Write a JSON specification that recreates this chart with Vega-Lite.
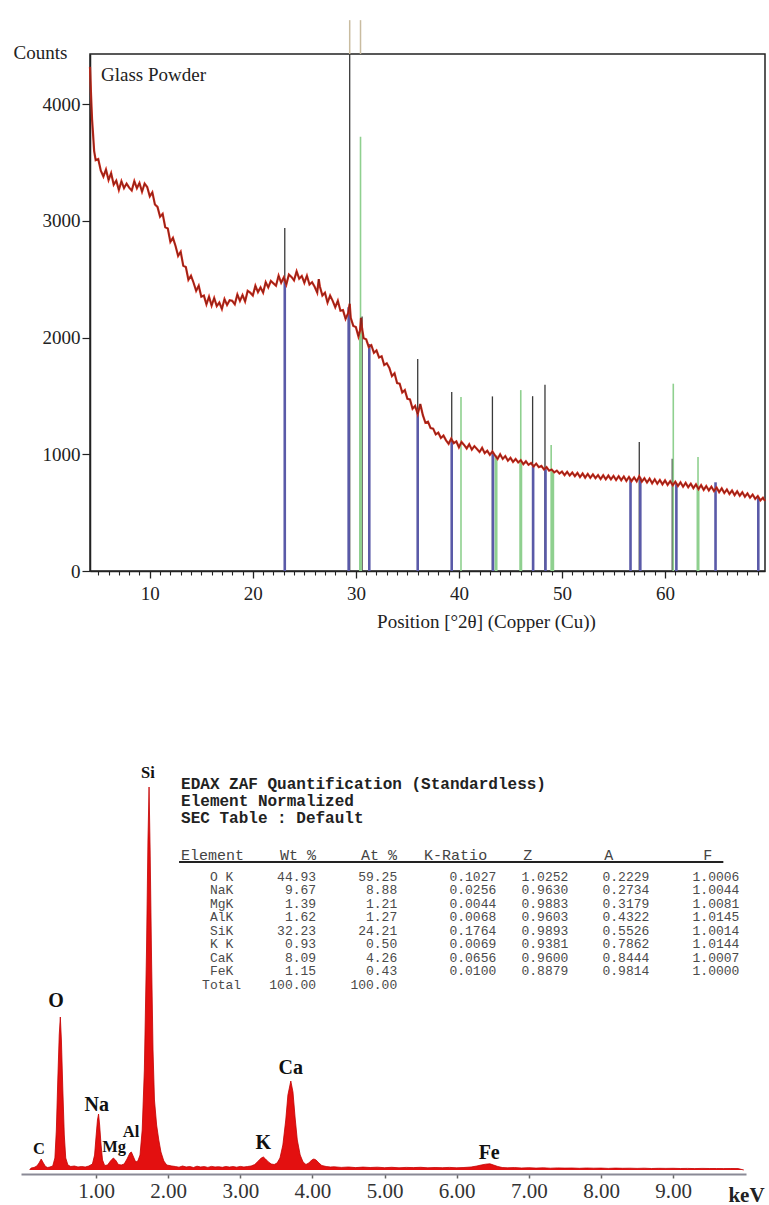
{
  "$schema": "https://vega.github.io/schema/vega-lite/v6.json",
  "padding": {"left": 12, "top": 18, "right": 0, "bottom": 0},
  "background": "white",
  "config": {"font": "Liberation Serif", "view": {"stroke": null}, "axis": {"grid": false}},
  "spacing": 132,
  "datasets": {
    "xrd": [
      {"t":4.2,"c":4320},{"t":4.3,"c":4080},{"t":4.4,"c":3870},{"t":4.5,"c":3740},{"t":4.6,"c":3600},{"t":4.75,"c":3520},{"t":5.0,"c":3530},{"t":5.25,"c":3430},{"t":5.5,"c":3380},{"t":5.75,"c":3440},{"t":6.0,"c":3350},{"t":6.25,"c":3410},{"t":6.5,"c":3310},{"t":6.75,"c":3345},{"t":7.0,"c":3265},{"t":7.25,"c":3340},{"t":7.5,"c":3280},{"t":7.75,"c":3320},{"t":8.0,"c":3285},{"t":8.25,"c":3260},{"t":8.5,"c":3340},{"t":8.75,"c":3280},{"t":9.0,"c":3325},{"t":9.25,"c":3250},{"t":9.5,"c":3320},{"t":9.75,"c":3290},{"t":10.0,"c":3210},{"t":10.25,"c":3245},{"t":10.5,"c":3140},{"t":10.75,"c":3120},{"t":11.0,"c":3035},{"t":11.25,"c":3060},{"t":11.5,"c":2945},{"t":11.75,"c":2935},{"t":12.0,"c":2820},{"t":12.25,"c":2855},{"t":12.5,"c":2785},{"t":12.75,"c":2700},{"t":13.0,"c":2735},{"t":13.25,"c":2615},{"t":13.5,"c":2605},{"t":13.75,"c":2495},{"t":14.0,"c":2530},{"t":14.25,"c":2470},{"t":14.5,"c":2400},{"t":14.75,"c":2445},{"t":15.0,"c":2350},{"t":15.25,"c":2360},{"t":15.5,"c":2285},{"t":15.75,"c":2350},{"t":16.0,"c":2275},{"t":16.25,"c":2340},{"t":16.5,"c":2270},{"t":16.75,"c":2300},{"t":17.0,"c":2245},{"t":17.25,"c":2330},{"t":17.5,"c":2280},{"t":17.75,"c":2320},{"t":18.0,"c":2315},{"t":18.25,"c":2285},{"t":18.5,"c":2370},{"t":18.75,"c":2315},{"t":19.0,"c":2365},{"t":19.25,"c":2310},{"t":19.5,"c":2400},{"t":19.75,"c":2385},{"t":20.0,"c":2360},{"t":20.25,"c":2445},{"t":20.5,"c":2390},{"t":20.75,"c":2430},{"t":21.0,"c":2385},{"t":21.25,"c":2475},{"t":21.5,"c":2430},{"t":21.75,"c":2485},{"t":22.0,"c":2465},{"t":22.25,"c":2445},{"t":22.5,"c":2530},{"t":22.75,"c":2470},{"t":23.0,"c":2515},{"t":23.25,"c":2455},{"t":23.5,"c":2540},{"t":23.75,"c":2520},{"t":24.0,"c":2490},{"t":24.25,"c":2567},{"t":24.5,"c":2505},{"t":24.75,"c":2528},{"t":25.0,"c":2470},{"t":25.25,"c":2530},{"t":25.5,"c":2455},{"t":25.75,"c":2475},{"t":26.0,"c":2435},{"t":26.25,"c":2385},{"t":26.4,"c":2500},{"t":26.5,"c":2440},{"t":26.75,"c":2360},{"t":27.0,"c":2385},{"t":27.25,"c":2300},{"t":27.5,"c":2360},{"t":27.75,"c":2315},{"t":28.0,"c":2260},{"t":28.25,"c":2315},{"t":28.5,"c":2230},{"t":28.75,"c":2235},{"t":29.0,"c":2160},{"t":29.25,"c":2210},{"t":29.4,"c":2290},{"t":29.5,"c":2170},{"t":29.75,"c":2100},{"t":30.0,"c":2090},{"t":30.25,"c":2010},{"t":30.4,"c":2060},{"t":30.5,"c":2170},{"t":30.6,"c":2080},{"t":30.75,"c":1995},{"t":31.0,"c":1985},{"t":31.25,"c":1920},{"t":31.5,"c":1935},{"t":31.75,"c":1870},{"t":32.0,"c":1890},{"t":32.25,"c":1830},{"t":32.5,"c":1840},{"t":32.75,"c":1765},{"t":33.0,"c":1780},{"t":33.25,"c":1740},{"t":33.5,"c":1670},{"t":33.75,"c":1695},{"t":34.0,"c":1610},{"t":34.25,"c":1605},{"t":34.5,"c":1530},{"t":34.75,"c":1550},{"t":35.0,"c":1475},{"t":35.25,"c":1470},{"t":35.5,"c":1390},{"t":35.75,"c":1415},{"t":36.0,"c":1345},{"t":36.25,"c":1430},{"t":36.5,"c":1335},{"t":36.75,"c":1270},{"t":37.0,"c":1280},{"t":37.25,"c":1225},{"t":37.5,"c":1220},{"t":37.75,"c":1170},{"t":38.0,"c":1185},{"t":38.25,"c":1140},{"t":38.5,"c":1160},{"t":38.75,"c":1120},{"t":39.0,"c":1090},{"t":39.25,"c":1135},{"t":39.5,"c":1095},{"t":39.75,"c":1110},{"t":40.0,"c":1060},{"t":40.25,"c":1105},{"t":40.5,"c":1080},{"t":40.75,"c":1050},{"t":41.0,"c":1085},{"t":41.25,"c":1040},{"t":41.5,"c":1070},{"t":41.75,"c":1045},{"t":42.0,"c":1020},{"t":42.25,"c":1055},{"t":42.5,"c":1010},{"t":42.75,"c":1030},{"t":43.0,"c":995},{"t":43.25,"c":1025},{"t":43.5,"c":990},{"t":43.75,"c":960},{"t":44.0,"c":1000},{"t":44.25,"c":960},{"t":44.5,"c":985},{"t":44.75,"c":945},{"t":45.0,"c":970},{"t":45.25,"c":935},{"t":45.5,"c":960},{"t":45.75,"c":930},{"t":46.0,"c":950},{"t":46.25,"c":915},{"t":46.5,"c":940},{"t":46.75,"c":910},{"t":47.0,"c":925},{"t":47.25,"c":895},{"t":47.5,"c":920},{"t":47.75,"c":890},{"t":48.0,"c":900},{"t":48.25,"c":870},{"t":48.5,"c":890},{"t":48.75,"c":860},{"t":49.0,"c":870},{"t":49.25,"c":845},{"t":49.5,"c":860},{"t":49.75,"c":835},{"t":50.0,"c":852},{"t":50.25,"c":822},{"t":50.5,"c":850},{"t":50.75,"c":818},{"t":51.0,"c":843},{"t":51.25,"c":812},{"t":51.5,"c":840},{"t":51.75,"c":805},{"t":52.0,"c":835},{"t":52.25,"c":800},{"t":52.5,"c":832},{"t":52.75,"c":798},{"t":53.0,"c":828},{"t":53.25,"c":795},{"t":53.5,"c":822},{"t":53.75,"c":788},{"t":54.0,"c":820},{"t":54.25,"c":786},{"t":54.5,"c":818},{"t":54.75,"c":785},{"t":55.0,"c":815},{"t":55.25,"c":780},{"t":55.5,"c":812},{"t":55.75,"c":778},{"t":56.0,"c":810},{"t":56.25,"c":772},{"t":56.5,"c":806},{"t":56.75,"c":770},{"t":57.0,"c":802},{"t":57.25,"c":768},{"t":57.5,"c":812},{"t":57.75,"c":765},{"t":58.0,"c":795},{"t":58.25,"c":758},{"t":58.5,"c":792},{"t":58.75,"c":752},{"t":59.0,"c":786},{"t":59.25,"c":748},{"t":59.5,"c":780},{"t":59.75,"c":742},{"t":60.0,"c":776},{"t":60.25,"c":738},{"t":60.5,"c":770},{"t":60.75,"c":735},{"t":61.0,"c":765},{"t":61.25,"c":728},{"t":61.5,"c":760},{"t":61.75,"c":722},{"t":62.0,"c":755},{"t":62.25,"c":718},{"t":62.5,"c":748},{"t":62.75,"c":710},{"t":63.0,"c":742},{"t":63.25,"c":702},{"t":63.5,"c":735},{"t":63.75,"c":695},{"t":64.0,"c":728},{"t":64.25,"c":690},{"t":64.5,"c":722},{"t":64.75,"c":685},{"t":65.0,"c":715},{"t":65.25,"c":676},{"t":65.5,"c":708},{"t":65.75,"c":668},{"t":66.0,"c":698},{"t":66.25,"c":660},{"t":66.5,"c":690},{"t":66.75,"c":650},{"t":67.0,"c":682},{"t":67.25,"c":645},{"t":67.5,"c":675},{"t":67.75,"c":636},{"t":68.0,"c":665},{"t":68.25,"c":628},{"t":68.5,"c":655},{"t":68.75,"c":618},{"t":69.0,"c":642},{"t":69.25,"c":605},{"t":69.5,"c":628},{"t":69.7,"c":600}
    ],
    "refBlack": [
      {"t":23.1,"c":2940},{"t":29.4,"c":4430},{"t":30.6,"c":2180},{"t":36.0,"c":1816},{"t":39.3,"c":1533},{"t":43.25,"c":1496},{"t":47.15,"c":1498},{"t":48.35,"c":1596},{"t":57.5,"c":1105},{"t":60.7,"c":962}
    ],
    "refGreen": [
      {"t":30.45,"c":3720},{"t":40.2,"c":1490},{"t":46.0,"c":1550},{"t":48.95,"c":1079},{"t":60.8,"c":1605},{"t":63.2,"c":976}
    ],
    "refGreenBar": [
      {"t":30.45,"c":2070},{"t":43.6,"c":990},{"t":46.0,"c":935},{"t":49.1,"c":860},{"t":63.2,"c":722}
    ],
    "refBlue": [
      {"t":23.1,"c":2505},{"t":29.3,"c":2260},{"t":31.3,"c":1945},{"t":36.0,"c":1370},{"t":39.3,"c":1110},{"t":43.3,"c":1005},{"t":47.2,"c":912},{"t":48.4,"c":878},{"t":56.65,"c":790},{"t":57.6,"c":800},{"t":61.1,"c":750},{"t":64.9,"c":760},{"t":69.05,"c":625}
    ],
    "refBeige": [
      {"t":29.4,"c":4720},{"t":30.45,"c":4720}
    ],
    "sample": [{"text":"Glass Powder"}],
    "eds": [
      {"e":0.08,"n":0},{"e":0.10,"n":20},{"e":0.14,"n":25},{"e":0.18,"n":40},{"e":0.21,"n":70},{"e":0.24,"n":110},{"e":0.27,"n":70},{"e":0.30,"n":35},{"e":0.33,"n":25},{"e":0.36,"n":30},{"e":0.40,"n":40},{"e":0.43,"n":120},{"e":0.45,"n":400},{"e":0.47,"n":900},{"e":0.49,"n":1350},{"e":0.505,"n":1530},{"e":0.52,"n":1300},{"e":0.54,"n":800},{"e":0.56,"n":350},{"e":0.58,"n":120},{"e":0.61,"n":50},{"e":0.65,"n":35},{"e":0.70,"n":40},{"e":0.75,"n":30},{"e":0.80,"n":35},{"e":0.85,"n":30},{"e":0.90,"n":40},{"e":0.95,"n":60},{"e":0.98,"n":150},{"e":1.00,"n":330},{"e":1.02,"n":500},{"e":1.035,"n":560},{"e":1.05,"n":450},{"e":1.07,"n":250},{"e":1.09,"n":100},{"e":1.12,"n":45},{"e":1.16,"n":50},{"e":1.20,"n":90},{"e":1.24,"n":120},{"e":1.27,"n":100},{"e":1.31,"n":55},{"e":1.35,"n":50},{"e":1.39,"n":60},{"e":1.43,"n":110},{"e":1.47,"n":170},{"e":1.49,"n":180},{"e":1.52,"n":130},{"e":1.55,"n":80},{"e":1.58,"n":90},{"e":1.61,"n":150},{"e":1.64,"n":400},{"e":1.67,"n":1000},{"e":1.70,"n":2200},{"e":1.72,"n":3300},{"e":1.735,"n":3830},{"e":1.75,"n":3200},{"e":1.77,"n":2100},{"e":1.79,"n":1200},{"e":1.81,"n":700},{"e":1.84,"n":450},{"e":1.87,"n":300},{"e":1.90,"n":180},{"e":1.94,"n":90},{"e":1.98,"n":50},{"e":2.05,"n":40},{"e":2.10,"n":35},{"e":2.15,"n":28},{"e":2.20,"n":40},{"e":2.25,"n":30},{"e":2.30,"n":35},{"e":2.35,"n":25},{"e":2.40,"n":38},{"e":2.45,"n":30},{"e":2.50,"n":34},{"e":2.55,"n":26},{"e":2.60,"n":36},{"e":2.65,"n":30},{"e":2.70,"n":33},{"e":2.75,"n":27},{"e":2.80,"n":35},{"e":2.85,"n":29},{"e":2.90,"n":34},{"e":2.95,"n":28},{"e":3.00,"n":36},{"e":3.05,"n":30},{"e":3.10,"n":35},{"e":3.15,"n":40},{"e":3.20,"n":55},{"e":3.25,"n":90},{"e":3.29,"n":120},{"e":3.32,"n":130},{"e":3.35,"n":110},{"e":3.39,"n":80},{"e":3.43,"n":60},{"e":3.47,"n":55},{"e":3.51,"n":70},{"e":3.55,"n":120},{"e":3.59,"n":250},{"e":3.63,"n":500},{"e":3.66,"n":750},{"e":3.70,"n":890},{"e":3.73,"n":780},{"e":3.76,"n":520},{"e":3.79,"n":300},{"e":3.83,"n":150},{"e":3.87,"n":80},{"e":3.91,"n":55},{"e":3.95,"n":70},{"e":3.99,"n":100},{"e":4.02,"n":110},{"e":4.05,"n":100},{"e":4.09,"n":70},{"e":4.13,"n":45},{"e":4.19,"n":35},{"e":4.25,"n":30},{"e":4.30,"n":32},{"e":4.40,"n":26},{"e":4.50,"n":30},{"e":4.60,"n":24},{"e":4.70,"n":29},{"e":4.80,"n":25},{"e":4.90,"n":28},{"e":5.00,"n":23},{"e":5.10,"n":27},{"e":5.20,"n":22},{"e":5.30,"n":26},{"e":5.40,"n":24},{"e":5.50,"n":27},{"e":5.60,"n":22},{"e":5.70,"n":25},{"e":5.80,"n":23},{"e":5.90,"n":26},{"e":6.00,"n":22},{"e":6.10,"n":25},{"e":6.20,"n":30},{"e":6.28,"n":40},{"e":6.34,"n":50},{"e":6.40,"n":58},{"e":6.46,"n":62},{"e":6.51,"n":50},{"e":6.57,"n":35},{"e":6.63,"n":25},{"e":6.70,"n":22},{"e":6.80,"n":24},{"e":6.90,"n":20},{"e":7.00,"n":23},{"e":7.10,"n":19},{"e":7.20,"n":22},{"e":7.30,"n":18},{"e":7.40,"n":21},{"e":7.50,"n":19},{"e":7.60,"n":20},{"e":7.70,"n":17},{"e":7.80,"n":20},{"e":7.90,"n":18},{"e":8.00,"n":19},{"e":8.10,"n":16},{"e":8.20,"n":19},{"e":8.30,"n":17},{"e":8.40,"n":18},{"e":8.50,"n":16},{"e":8.60,"n":18},{"e":8.70,"n":15},{"e":8.80,"n":17},{"e":8.90,"n":16},{"e":9.00,"n":17},{"e":9.10,"n":15},{"e":9.20,"n":16},{"e":9.30,"n":14},{"e":9.40,"n":16},{"e":9.50,"n":15},{"e":9.60,"n":15},{"e":9.70,"n":14},{"e":9.80,"n":15},{"e":9.90,"n":14},{"e":9.98,"n":0}
    ],
    "labelsBig": [
      {"el":"O","e":0.445,"n":1690},{"el":"Na","e":1.01,"n":650},{"el":"K","e":3.32,"n":270},{"el":"Ca","e":3.70,"n":1020},{"el":"Fe","e":6.45,"n":170}
    ],
    "labelsSmall": [
      {"el":"Si","e":1.72,"n":3970},{"el":"C","e":0.21,"n":210},{"el":"Mg","e":1.25,"n":230},{"el":"Al","e":1.485,"n":380}
    ],
    "edaxTitle": [
      {"line":1,"text":"EDAX ZAF Quantification (Standardless)"},
      {"line":2,"text":"Element Normalized"},
      {"line":3,"text":"SEC Table : Default"}
    ],
    "edaxHeader": [
      {"text":"Element\u00a0\u00a0\u00a0\u00a0Wt %\u00a0\u00a0\u00a0\u00a0\u00a0At %\u00a0\u00a0\u00a0K-Ratio\u00a0\u00a0\u00a0\u00a0Z\u00a0\u00a0\u00a0\u00a0\u00a0\u00a0\u00a0\u00a0A\u00a0\u00a0\u00a0\u00a0\u00a0\u00a0\u00a0\u00a0\u00a0\u00a0F"}
    ],
    "edaxTable": [
      {"row":1,"el":"O K","wt":44.93,"at":59.25,"kr":0.1027,"z":1.0252,"a":0.2229,"f":1.0006},
      {"row":2,"el":"NaK","wt":9.67,"at":8.88,"kr":0.0256,"z":0.9630,"a":0.2734,"f":1.0044},
      {"row":3,"el":"MgK","wt":1.39,"at":1.21,"kr":0.0044,"z":0.9883,"a":0.3179,"f":1.0081},
      {"row":4,"el":"AlK","wt":1.62,"at":1.27,"kr":0.0068,"z":0.9603,"a":0.4322,"f":1.0145},
      {"row":5,"el":"SiK","wt":32.23,"at":24.21,"kr":0.1764,"z":0.9893,"a":0.5526,"f":1.0014},
      {"row":6,"el":"K K","wt":0.93,"at":0.50,"kr":0.0069,"z":0.9381,"a":0.7862,"f":1.0144},
      {"row":7,"el":"CaK","wt":8.09,"at":4.26,"kr":0.0656,"z":0.9600,"a":0.8444,"f":1.0007},
      {"row":8,"el":"FeK","wt":1.15,"at":0.43,"kr":0.0100,"z":0.8879,"a":0.9814,"f":1.0000},
      {"row":9,"el":"Total","wt":100.00,"at":100.00}
    ]
  },
  "vconcat": [
    {
      "width": 675,
      "height": 517,
      "view": {"stroke": "#222222", "strokeWidth": 1.5},
      "resolve": {"axis": {"x": "independent"}},
      "layer": [
        {
          "data": {"name": "refBlack"},
          "mark": {"type": "rule", "color": "#3a3a3a", "strokeWidth": 1.3},
          "encoding": {
            "x": {"field": "t", "type": "quantitative", "title": "Position [°2θ] (Copper (Cu))",
              "scale": {"domain": [4.2, 69.7], "nice": false, "zero": false},
              "axis": {"orient": "bottom", "values": [10,20,30,40,50,60], "format": "d", "tickSize": 7,
                "tickColor": "#222222", "tickWidth": 1.3, "domainColor": "#222222", "domainWidth": 1.5,
                "labelFontSize": 19, "labelColor": "#222222", "labelPadding": 6, "labelFlush": false,
                "titleFontSize": 19, "titleFontWeight": "normal", "titleColor": "#222222", "titleX": 396, "titleAlign": "center", "titlePadding": 9}},
            "y": {"field": "c", "type": "quantitative", "title": "Counts",
              "scale": {"domain": [0, 4430], "nice": false},
              "axis": {"values": [0,1000,2000,3000,4000], "format": "d", "tickSize": 8, "tickColor": "#222222", "tickWidth": 1.2,
                "domainColor": "#222222", "domainWidth": 1.5, "labelFontSize": 19, "labelColor": "#222222", "labelPadding": 2,
                "titleAngle": 0, "titleX": -77, "titleY": -2, "titleAlign": "left", "titleBaseline": "middle",
                "titleFontSize": 19, "titleFontWeight": "normal", "titleColor": "#222222"}},
            "y2": {"datum": 0}
          }
        },
        {
          "data": {"name": "refGreen"},
          "mark": {"type": "rule", "color": "#8fd08f", "strokeWidth": 1.6},
          "encoding": {
            "x": {"field": "t", "type": "quantitative",
              "axis": {"orient": "bottom", "values": [5,6,7,8,9,11,12,13,14,15,16,17,18,19,21,22,23,24,25,26,27,28,29,31,32,33,34,35,36,37,38,39,41,42,43,44,45,46,47,48,49,51,52,53,54,55,56,57,58,59,61,62,63,64,65,66,67,68,69],
                "tickSize": 4, "tickColor": "#222222", "tickWidth": 1.1, "labels": false, "domain": false, "title": null}},
            "y": {"field": "c", "type": "quantitative"},
            "y2": {"datum": 0}
          }
        },
        {
          "data": {"name": "refGreenBar"},
          "mark": {"type": "rule", "color": "#8fd08f", "strokeWidth": 3},
          "encoding": {"x": {"field": "t", "type": "quantitative", "axis": null}, "y": {"field": "c", "type": "quantitative"}, "y2": {"datum": 0}}
        },
        {
          "data": {"name": "refBlue"},
          "mark": {"type": "rule", "color": "#5a5aa8", "strokeWidth": 2.6},
          "encoding": {"x": {"field": "t", "type": "quantitative", "axis": null}, "y": {"field": "c", "type": "quantitative"}, "y2": {"datum": 0}}
        },
        {
          "data": {"name": "xrd"},
          "mark": {"type": "line", "color": "#cf2a1a", "strokeWidth": 2.2},
          "encoding": {"x": {"field": "t", "type": "quantitative", "axis": null}, "y": {"field": "c", "type": "quantitative"}}
        },
        {
          "data": {"name": "xrd"},
          "mark": {"type": "line", "color": "#2a1a1a", "strokeWidth": 0.7, "opacity": 0.6},
          "encoding": {"x": {"field": "t", "type": "quantitative", "axis": null}, "y": {"field": "c", "type": "quantitative"}}
        },
        {
          "data": {"name": "refBeige"},
          "mark": {"type": "rule", "color": "#c9bca0", "strokeWidth": 1.5, "clip": false},
          "encoding": {"x": {"field": "t", "type": "quantitative", "axis": null}, "y": {"field": "c", "type": "quantitative"}, "y2": {"datum": 4430}}
        },
        {
          "data": {"name": "sample"},
          "mark": {"type": "text", "fontSize": 19, "color": "#222222", "align": "left", "baseline": "middle"},
          "encoding": {"x": {"datum": 5.27, "type": "quantitative", "axis": null}, "y": {"datum": 4250, "type": "quantitative"}, "text": {"field": "text"}}
        }
      ]
    },
    {
      "width": 656,
      "height": 405,
      "resolve": {"scale": {"y": "independent"}},
      "layer": [
        {
          "data": {"name": "eds"},
          "mark": {"type": "area", "color": "#e31010", "opacity": 1, "line": {"color": "#c40000", "strokeWidth": 0.8}, "clip": false},
          "encoding": {
            "x": {"field": "e", "type": "quantitative",
              "scale": {"domain": [-0.04, 10.01], "range": [-69, 656], "nice": false, "zero": false},
              "axis": {"values": [1,2,3,4,5,6,7,8,9], "format": ".2f", "offset": 4, "tickSize": 4, "tickColor": "#666666", "tickWidth": 1.5,
                "domainColor": "#8a8a96", "domainWidth": 2, "labelFontSize": 21, "labelColor": "#333333", "labelPadding": 2, "labelFlush": false,
                "title": "keV", "titleFontSize": 21, "titleFontWeight": "bold", "titleColor": "#222222", "titleX": 656, "titleY": 21,
                "titleAlign": "center", "titleBaseline": "middle"}},
            "y": {"field": "n", "type": "quantitative",
              "scale": {"domain": [0, 4050], "nice": false}, "axis": null}
          }
        },
        {
          "data": {"name": "labelsBig"},
          "mark": {"type": "text", "fontWeight": "bold", "fontSize": 20, "color": "#111111", "baseline": "middle", "clip": false},
          "encoding": {
            "x": {"field": "e", "type": "quantitative"},
            "y": {"field": "n", "type": "quantitative", "scale": {"domain": [0, 4050], "nice": false}, "axis": null},
            "text": {"field": "el"}
          }
        },
        {
          "data": {"name": "labelsSmall"},
          "mark": {"type": "text", "fontWeight": "bold", "fontSize": 16.5, "color": "#111111", "baseline": "middle", "clip": false},
          "encoding": {
            "x": {"field": "e", "type": "quantitative"},
            "y": {"field": "n", "type": "quantitative", "scale": {"domain": [0, 4050], "nice": false}, "axis": null},
            "text": {"field": "el"}
          }
        },
        {
          "data": {"name": "edaxTitle"},
          "mark": {"type": "text", "font": "Liberation Mono", "fontWeight": "bold", "fontSize": 16, "color": "#222222", "align": "left", "baseline": "middle"},
          "encoding": {
            "x": {"datum": 2.179, "type": "quantitative"},
            "y": {"field": "line", "type": "quantitative", "scale": {"domain": [-0.118, 23.71], "reverse": true, "nice": false, "zero": false}, "axis": null},
            "text": {"field": "text"}
          }
        },
        {
          "layer": [
            {
              "data": {"name": "edaxHeader"},
              "mark": {"type": "text", "font": "Liberation Mono", "fontSize": 15, "color": "#444444", "align": "left", "baseline": "middle"},
              "encoding": {
                "x": {"datum": 2.179, "type": "quantitative"},
                "y": {"datum": -0.63, "type": "quantitative", "scale": {"domain": [-7.296, 22.704], "reverse": true, "nice": false, "zero": false}, "axis": null},
                "text": {"field": "text"}
              }
            },
            {
              "data": {"name": "edaxHeader"},
              "mark": {"type": "rule", "color": "#222222", "strokeWidth": 2},
              "encoding": {
                "x": {"datum": 2.151, "type": "quantitative"},
                "x2": {"datum": 9.696},
                "y": {"datum": -0.11, "type": "quantitative"}
              }
            },
            {
              "data": {"name": "edaxTable"},
              "mark": {"type": "text", "font": "Liberation Mono", "fontSize": 13, "color": "#4a4a4a", "align": "center", "baseline": "middle"},
              "encoding": {"x": {"datum": 2.741, "type": "quantitative"}, "y": {"field": "row", "type": "quantitative"}, "text": {"field": "el"}}
            },
            {
              "data": {"name": "edaxTable"},
              "mark": {"type": "text", "font": "Liberation Mono", "fontSize": 13, "color": "#4a4a4a", "align": "right", "baseline": "middle"},
              "encoding": {"x": {"datum": 4.051, "type": "quantitative"}, "y": {"field": "row", "type": "quantitative"}, "text": {"field": "wt", "type": "quantitative", "format": ".2f"}}
            },
            {
              "data": {"name": "edaxTable"},
              "mark": {"type": "text", "font": "Liberation Mono", "fontSize": 13, "color": "#4a4a4a", "align": "right", "baseline": "middle"},
              "encoding": {"x": {"datum": 5.175, "type": "quantitative"}, "y": {"field": "row", "type": "quantitative"}, "text": {"field": "at", "type": "quantitative", "format": ".2f"}}
            },
            {
              "data": {"name": "edaxTable"},
              "transform": [{"filter": "isValid(datum.kr)"}],
              "mark": {"type": "text", "font": "Liberation Mono", "fontSize": 13, "color": "#4a4a4a", "align": "right", "baseline": "middle"},
              "encoding": {"x": {"datum": 6.548, "type": "quantitative"}, "y": {"field": "row", "type": "quantitative"}, "text": {"field": "kr", "type": "quantitative", "format": ".4f"}}
            },
            {
              "data": {"name": "edaxTable"},
              "transform": [{"filter": "isValid(datum.z)"}],
              "mark": {"type": "text", "font": "Liberation Mono", "fontSize": 13, "color": "#4a4a4a", "align": "right", "baseline": "middle"},
              "encoding": {"x": {"datum": 7.547, "type": "quantitative"}, "y": {"field": "row", "type": "quantitative"}, "text": {"field": "z", "type": "quantitative", "format": ".4f"}}
            },
            {
              "data": {"name": "edaxTable"},
              "transform": [{"filter": "isValid(datum.a)"}],
              "mark": {"type": "text", "font": "Liberation Mono", "fontSize": 13, "color": "#4a4a4a", "align": "right", "baseline": "middle"},
              "encoding": {"x": {"datum": 8.670, "type": "quantitative"}, "y": {"field": "row", "type": "quantitative"}, "text": {"field": "a", "type": "quantitative", "format": ".4f"}}
            },
            {
              "data": {"name": "edaxTable"},
              "transform": [{"filter": "isValid(datum.f)"}],
              "mark": {"type": "text", "font": "Liberation Mono", "fontSize": 13, "color": "#4a4a4a", "align": "right", "baseline": "middle"},
              "encoding": {"x": {"datum": 9.918, "type": "quantitative"}, "y": {"field": "row", "type": "quantitative"}, "text": {"field": "f", "type": "quantitative", "format": ".4f"}}
            }
          ]
        }
      ]
    }
  ]
}
